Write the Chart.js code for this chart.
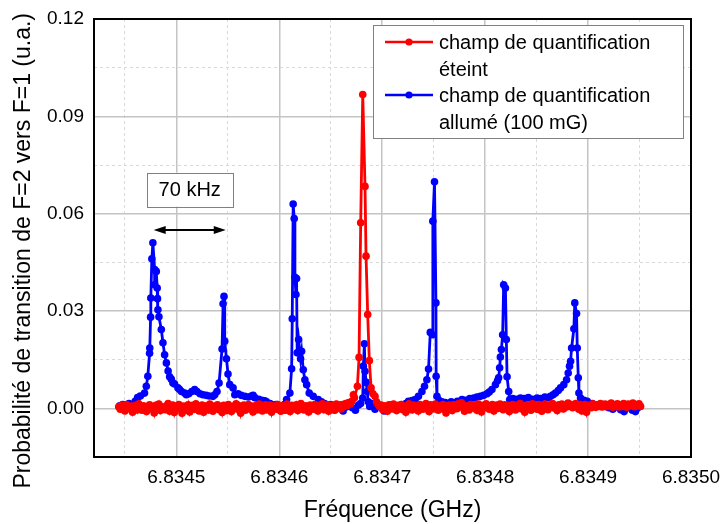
<!DOCTYPE html>
<html>
<head>
<meta charset="utf-8">
<script src="https://cdn.jsdelivr.net/npm/chart.js@4.4.0/dist/chart.umd.min.js"></script>
<style>
    html, body { margin: 0; padding: 0; background: #ffffff; }
</style>
</head>
<body>
<canvas id="graficoSpectre" width="720" height="524"></canvas>
<script>
// Base du balayage en GHz ; chaque point = [décalage en kHz, probabilité]
const freqBase = 6.834444;

// champ de quantification éteint
const redPoints = [
    [0,0.0005],[1.5,-0.0003],[3,0.0010],[4.5,0.0002],[6,-0.0008],[7.5,0.0012],[9,0.0004],[10.5,-0.0001],[12,0.0007],[13.5,-0.0012],
    [15,0.0003],[16.5,0.0009],[18,-0.0005],[19.5,0.0014],[21,0.0001],[22.5,-0.0006],[24,0.0008],[25.5,0.0002],[27,-0.0010],[28.5,0.0006],
    [30,0.0011],[31.5,-0.0002],[33,0.0004],[34.5,-0.0014],[36,0.0009],[37.5,0.0000],[39,0.0013],[40.5,-0.0007],[42,0.0005],[43.5,0.0002],
    [45,-0.0004],[46.5,0.0008],[48,0.0015],[49.5,-0.0009],[51,0.0003],[52.5,0.0010],[54,-0.0013],[55.5,0.0006],[57,-0.0002],[58.5,0.0012],
    [60,0.0001],[61.5,-0.0015],[63,0.0007],[64.5,0.0003],[66,-0.0006],[67.5,0.0011],[69,-0.0011],[70.5,0.0004],[72,0.0009],[73.5,-0.0003],
    [75,0.0014],[76.5,0.0002],[78,-0.0008],[79.5,0.0006],[81,0.0010],[82.5,-0.0012],[84,0.0001],[85.5,0.0008],[87,-0.0005],[88.5,0.0013],
    [90,0.0003],[91.5,-0.0009],[93,0.0007],[94.5,0.0000],[96,0.0011],[97.5,-0.0004],[99,0.0005],[100.5,-0.0013],[102,0.0009],[103.5,0.0002],
    [105,-0.0007],[106.5,0.0012],[108,0.0004],[109.5,-0.0010],[111,0.0006],[112.5,0.0001],[114,0.0014],[115.5,-0.0003],[117,0.0008],[118.5,-0.0015],
    [120,0.0005],[121.5,0.0010],[123,-0.0006],[124.5,0.0003],[126,0.0012],[127.5,-0.0002],[129,0.0007],[130.5,-0.0011],[132,0.0004],[133.5,0.0009],
    [135,-0.0004],[136.5,0.0013],[138,0.0001],[139.5,-0.0008],[141,0.0006],[142.5,0.0011],[144,-0.0005],[145.5,0.0002],[147,0.0010],[148.5,-0.0012],
    [150,0.0007],[151.5,0.0003],[153,-0.0003],[154.5,0.0012],[156,0.0000],[157.5,-0.0009],[159,0.0008],[160.5,0.0004],[162,-0.0006],[163.5,0.0013],
    [165,0.0002],[166.5,-0.0010],[168,0.0009],[169.5,0.0005],[171,-0.0002],[172.5,0.0011],[174,-0.0007],[175.5,0.0006],[177,0.0015],[178.5,0.0001],
    [180,-0.0005],[181.5,0.0008],[183,0.0003],[184.5,-0.0011],[186,0.0010],[187.5,0.0004],[189,-0.0003],[190.5,0.0012],[192,0.0006],[193.5,-0.0008],
    [195,0.0009],[196.5,0.0002],[198,0.0014],[199.5,-0.0004],[201,0.0007],[202.5,0.0011],[204,-0.0009],[205.5,0.0005],[207,0.0010],[208.5,0.0001],
    [210,-0.0006],[211.5,0.0013],[213,0.0004],[214.5,0.0008],[216,-0.0002],[217.5,0.0012],[219,0.0006],[220.5,0.0015],[222,0.0009],[223.5,0.0018],
    [225,0.0013],[226.5,0.0022],[228,0.0042],[229,0.0033],[231.9,0.0068],[233.5,0.0157],[235.1,0.0572],[237.1,0.0967],[239.3,0.0684],[240.3,0.0469],
    [241.9,0.0289],[243.5,0.0147],[245.2,0.0063],[247,0.0045],[249,0.0037],[250.5,0.0020],[252,0.0012],[253.5,0.0006],[255,0.0010],[256.5,-0.0004],
    [258,0.0008],[259.5,0.0002],[261,-0.0009],[262.5,0.0011],[264,0.0005],[265.5,-0.0002],[267,0.0013],[268.5,0.0003],[270,-0.0007],[271.5,0.0009],
    [273,0.0001],[274.5,0.0012],[276,-0.0004],[277.5,0.0006],[279,-0.0012],[280.5,0.0008],[282,0.0014],[283.5,0.0003],[285,-0.0005],[286.5,0.0010],
    [288,0.0002],[289.5,0.0007],[291,-0.0008],[292.5,0.0012],[294,0.0004],[295.5,-0.0003],[297,0.0009],[298.5,0.0015],[300,0.0001],[301.5,-0.0010],
    [303,0.0011],[304.5,0.0006],[306,-0.0002],[307.5,0.0013],[309,0.0004],[310.5,-0.0006],[312,0.0008],[313.5,0.0002],[315,0.0012],[316.5,-0.0004],
    [318,-0.0014],[319.5,0.0007],[321,0.0010],[322.5,0.0003],[324,-0.0007],[325.5,0.0011],[327,0.0005],[328.5,-0.0001],[330,0.0014],[331.5,0.0006],
    [333,0.0017],[334.5,0.0002],[336,-0.0009],[337.5,0.0008],[339,0.0003],[340.5,-0.0005],[342,0.0012],[343.5,0.0007],[345,0.0001],[346.5,0.0010],
    [348,-0.0006],[349.5,0.0013],[351,0.0004],[352.5,-0.0011],[354,0.0009],[355.5,0.0002],[357,0.0014],[358.5,0.0006],[360,-0.0003],[361.5,0.0008],
    [363,0.0012],[364.5,-0.0008],[366,0.0005],[367.5,0.0010],[369,0.0000],[370.5,0.0013],[372,0.0007],[373.5,-0.0004],[375,0.0011],[376.5,0.0003],
    [378,0.0009],[379.5,-0.0010],[381,0.0006],[382.5,0.0012],[384,0.0002],[385.5,-0.0005],[387,0.0010],[388.5,0.0004],[390,0.0015],[391.5,-0.0002],
    [393,0.0008],[394.5,-0.0012],[396,0.0006],[397.5,0.0011],[399,0.0003],[400.5,-0.0006],[402,0.0014],[403.5,0.0005],[405,0.0009],[406.5,-0.0003],
    [408,0.0012],[409.5,0.0002],[411,-0.0009],[412.5,0.0007],[414,0.0013],[415.5,0.0004],[417,-0.0004],[418.5,0.0010],[420,0.0006],[421.5,0.0015],
    [423,0.0001],[424.5,0.0008],[426,-0.0007],[427.5,0.0011],[429,0.0005],[430.5,0.0013],[432,-0.0002],[433.5,0.0009],[435,0.0004],[436.5,0.0016],
    [438,0.0007],[439.5,0.0012],[441,0.0002],[442.5,0.0010],[444,0.0015],[445.5,0.0006],[447,-0.0003],[448.5,0.0011],[450,-0.0008],[451.5,0.0004],
    [453,0.0012],[454.5,-0.0012],[456,0.0006],[457.5,0.0009],[459,0.0002],[460.5,0.0014],[462,0.0008],[463.5,0.0003],[465,0.0011],[466.5,0.0006],
    [468,0.0015],[469.5,0.0004],[471,0.0010],[472.5,0.0013],[474,0.0005],[475.5,0.0012],[477,0.0007],[478.5,0.0016],[480,0.0003],[481.5,0.0011],
    [483,0.0008],[484.5,0.0014],[486,0.0004],[487.5,0.0010],[489,0.0006],[490.5,0.0015],[492,0.0009],[493.5,0.0003],[495,0.0013],[496.5,0.0007],
    [498,0.0011],[499.5,0.0016],[501,0.0005],[502.5,0.0012],[504,0.0008],[505.5,0.0014],[507,0.0006]
];

// champ de quantification allumé (100 mG)
const bluePoints = [
    [1,0.0008],[4,0.0012],[7,0.0005],[10,0.0015],[13,0.0010],[16,0.0022],[18.3,0.0033],[21,0.0038],
    [25.1,0.0047],[26.8,0.0068],[28.3,0.0099],[30,0.0170],[30.2,0.0186],[31,0.0281],[31.2,0.0340],
    [32.2,0.0461],[33.2,0.0510],[34.9,0.0428],[34.9,0.0381],[36.5,0.0422],[37.4,0.0371],[37.7,0.0338],
    [38.1,0.0304],[39.1,0.0282],[41.4,0.0243],[43,0.0202],[44.6,0.0165],[46.3,0.0140],[48,0.0115],
    [49.5,0.0097],[51.1,0.0090],[52.7,0.0078],[54.3,0.0075],[57.6,0.0063],[59.2,0.0058],[61,0.0052],
    [64.1,0.0047],[65.7,0.0042],[68,0.0045],[71,0.0052],[73.8,0.0058],[76,0.0052],[79,0.0045],[81.9,0.0042],
    [85,0.0040],[88,0.0038],[91.6,0.0037],[93.3,0.0042],[95.5,0.0052],[97.5,0.0078],[100.4,0.0183],
    [101.4,0.0322],[102.3,0.0345],[103,0.0207],[104.7,0.0153],[106.2,0.0106],[107.9,0.0073],[111.1,0.0063],
    [112.8,0.0042],[116,0.0045],[119,0.0040],[122.5,0.0037],[126,0.0035],[129,0.0038],[130.6,0.0040],
    [132.2,0.0033],[136,0.0028],[139,0.0025],[142,0.0023],[143.6,0.0020],[147,0.0015],[150,0.0010],
    [153,0.0012],[156,0.0005],[159.8,-0.0005],[161,0.0012],[163.1,0.0027],[166.3,0.0047],[168,0.0122],
    [168.6,0.0276],[169.5,0.0630],[170.5,0.0585],[171.2,0.0404],[172.2,0.0351],[172.8,0.0400],[173.4,0.0171],
    [174.8,0.0212],[176.7,0.0153],[177.7,0.0176],[179.3,0.0119],[180.9,0.0088],[182.6,0.0073],[185.1,0.0047],
    [189,0.0037],[193.9,0.0027],[197,0.0020],[200,0.0015],[203,0.0008],[206,0.0012],[209,-0.0004],
    [212,0.0006],[215,0.0010],[218,-0.0008],[221,0.0004],[224,0.0012],[227,0.0002],[230,-0.0006],
    [233,0.0010],[235,0.0015],[237.1,0.0032],[237.7,0.0130],[238.7,0.0199],[239.3,0.0114],[240.5,0.0080],
    [241.4,0.0052],[242.5,0.0020],[243.9,0.0006],[246,0.0015],[249,-0.0003],[252,0.0008],[255,0.0003],
    [258,-0.0008],[261,0.0005],[264,0.0010],[267,0.0002],[270,-0.0004],[273,0.0006],[276,0.0010],
    [279,0.0015],[281.5,0.0022],[285,0.0024],[288,0.0027],[291.2,0.0037],[294.6,0.0052],[297.1,0.0068],
    [299.4,0.0088],[301,0.0121],[302.7,0.0234],[304.9,0.0227],[305.2,0.0577],[306.8,0.0698],[308.2,0.0325],
    [308.4,0.0099],[309.2,0.0037],[311,0.0025],[314,0.0020],[317.3,0.0018],[320,0.0012],[323,0.0020],
    [326,0.0015],[329,0.0022],[333.5,0.0027],[337,0.0025],[341,0.0030],[344.8,0.0032],[348,0.0035],
    [351.3,0.0037],[354.5,0.0040],[357.8,0.0045],[360,0.0050],[362.6,0.0058],[366,0.0073],[368,0.0085],
    [369.1,0.0094],[370.1,0.0125],[370.8,0.0158],[371.8,0.0181],[373,0.0227],[374,0.0381],[375.7,0.0371],
    [376.6,0.0212],[377.3,0.0097],[378.9,0.0052],[379.9,0.0027],[383,0.0030],[387,0.0028],[390.3,0.0032],
    [394,0.0030],[398,0.0033],[402,0.0028],[406.5,0.0032],[410,0.0030],[414,0.0035],[417,0.0033],
    [419.5,0.0037],[422,0.0042],[424.3,0.0047],[427,0.0055],[429.2,0.0063],[432.4,0.0073],[435.1,0.0088],
    [436.7,0.0109],[438,0.0130],[439,0.0145],[440,0.0186],[442.2,0.0245],[443.1,0.0325],[444.8,0.0292],
    [445.5,0.0186],[446.5,0.0094],[447.1,0.0047],[448.7,0.0032],[452,0.0025],[455.2,0.0022],[460,0.0015],
    [465,0.0010],[471.4,0.0006],[476,0.0002],[480,-0.0003],[484,0.0004],[487.7,-0.0004],[491,-0.0010],
    [495,0.0002],[499,-0.0006],[502,-0.0010],[504,0.0001]
];

// graduations (GHz et u.a.)
const xTicks = [6.83445, 6.8345, 6.83455, 6.8346, 6.83465, 6.8347, 6.83475, 6.8348, 6.83485, 6.8349, 6.83495, 6.835];
const yTicks = [-0.015, 0, 0.015, 0.03, 0.045, 0.06, 0.075, 0.09, 0.105, 0.12];

const seriesColors = ['#ff0000', '#0000ff'];
const legendLines = [
    ['champ de quantification', 'éteint'],
    ['champ de quantification', 'allumé (100 mG)']
];

// flèche "70 kHz"
const spacingLabel = '70 kHz';
const spacingArrow = [6.834478, 6.834548];
const spacingArrowY = 0.055;
const spacingLabelPos = [6.834513, 0.0674];

const fontFamily = '"Liberation Sans", Arial, Helvetica, sans-serif';
Chart.defaults.color = '#000000';
Chart.defaults.font.family = fontFamily;

function toXY(points) {
    return points.map(p => ({ x: freqBase + p[0] * 1e-6, y: p[1] }));
}

function isMajorX(v) {
    return Math.abs(v * 1e4 - Math.round(v * 1e4)) < 1e-6;
}
function isMajorY(v) {
    return v > -1e-9 && Math.abs(v / 0.03 - Math.round(v / 0.03)) < 1e-6;
}

// cadre noir autour de la zone de tracé
const framePlugin = {
    id: 'cadre',
    afterDatasetsDraw(chart) {
        const { ctx, chartArea } = chart;
        ctx.save();
        ctx.strokeStyle = '#000000';
        ctx.lineWidth = 2;
        ctx.strokeRect(chartArea.left, chartArea.top, chartArea.right - chartArea.left, chartArea.bottom - chartArea.top);
        ctx.restore();
    }
};

// flèche double et étiquette "70 kHz"
const spacingPlugin = {
    id: 'ecart',
    afterDatasetsDraw(chart) {
        const { ctx } = chart;
        const xs = chart.scales.x, ys = chart.scales.y;
        const xa = xs.getPixelForValue(spacingArrow[0]);
        const xb = xs.getPixelForValue(spacingArrow[1]);
        const ya = ys.getPixelForValue(spacingArrowY);
        ctx.save();
        ctx.strokeStyle = '#000000';
        ctx.fillStyle = '#000000';
        ctx.lineWidth = 2;
        ctx.beginPath();
        ctx.moveTo(xa + 6, ya);
        ctx.lineTo(xb - 6, ya);
        ctx.stroke();
        const head = 12, half = 4;
        ctx.beginPath();
        ctx.moveTo(xa, ya); ctx.lineTo(xa + head, ya - half); ctx.lineTo(xa + head, ya + half); ctx.closePath();
        ctx.fill();
        ctx.beginPath();
        ctx.moveTo(xb, ya); ctx.lineTo(xb - head, ya - half); ctx.lineTo(xb - head, ya + half); ctx.closePath();
        ctx.fill();

        const cx = xs.getPixelForValue(spacingLabelPos[0]);
        const cy = ys.getPixelForValue(spacingLabelPos[1]);
        ctx.font = '20px ' + fontFamily;
        const tw = ctx.measureText(spacingLabel).width;
        const bw = tw + 24, bh = 34;
        ctx.fillStyle = '#ffffff';
        ctx.fillRect(cx - bw / 2, cy - bh / 2, bw, bh);
        ctx.strokeStyle = '#808080';
        ctx.lineWidth = 1;
        ctx.strokeRect(Math.round(cx - bw / 2) + 0.5, Math.round(cy - bh / 2) + 0.5, Math.round(bw), bh);
        ctx.fillStyle = '#000000';
        ctx.textAlign = 'center';
        ctx.textBaseline = 'middle';
        ctx.fillText(spacingLabel, cx, cy + 1);
        ctx.restore();
    }
};

// légende encadrée sur deux lignes par série
const legendPlugin = {
    id: 'legendeBoite',
    afterDraw(chart) {
        const { ctx, chartArea } = chart;
        const w = 310, h = 113;
        const x0 = Math.round(chartArea.right - 8 - w);
        const y0 = Math.round(chartArea.top + 6);
        ctx.save();
        ctx.fillStyle = '#ffffff';
        ctx.fillRect(x0, y0, w, h);
        ctx.strokeStyle = '#808080';
        ctx.lineWidth = 1;
        ctx.strokeRect(x0 + 0.5, y0 + 0.5, w, h);
        ctx.font = '20px ' + fontFamily;
        ctx.textBaseline = 'middle';
        ctx.textAlign = 'left';
        legendLines.forEach((lines, i) => {
            const yl = y0 + 17 + i * 53;
            ctx.strokeStyle = seriesColors[i];
            ctx.lineWidth = 2.5;
            ctx.beginPath();
            ctx.moveTo(x0 + 12, yl);
            ctx.lineTo(x0 + 60, yl);
            ctx.stroke();
            ctx.fillStyle = seriesColors[i];
            ctx.beginPath();
            ctx.arc(x0 + 36, yl, 3.6, 0, Math.PI * 2);
            ctx.fill();
            ctx.fillStyle = '#000000';
            lines.forEach((t, j) => ctx.fillText(t, x0 + 66, yl + 1 + j * 27));
        });
        ctx.restore();
    }
};

const ctx = document.getElementById('graficoSpectre');

const config = {
    type: 'scatter',
    data: {
        datasets: [
            {
                label: legendLines[1].join(' '),
                data: toXY(bluePoints),
                showLine: true,
                borderColor: seriesColors[1],
                backgroundColor: seriesColors[1],
                borderWidth: 2.8,
                pointRadius: 3.8,
                pointBorderWidth: 0,
                pointHoverRadius: 3.8,
                order: 2
            },
            {
                label: legendLines[0].join(' '),
                data: toXY(redPoints),
                showLine: true,
                borderColor: seriesColors[0],
                backgroundColor: seriesColors[0],
                borderWidth: 2.8,
                pointRadius: 3.8,
                pointBorderWidth: 0,
                pointHoverRadius: 3.8,
                order: 1
            }
        ]
    },
    options: {
        responsive: false,
        animation: false,
        devicePixelRatio: 1,
        layout: { padding: { top: 19, right: 29, left: 0, bottom: 0 } },
        plugins: {
            legend: { display: false },
            tooltip: { enabled: false }
        },
        scales: {
            x: {
                type: 'linear',
                min: 6.83442,
                max: 6.835,
                afterBuildTicks: (scale) => { scale.ticks = xTicks.map(v => ({ value: v })); },
                afterFit: (scale) => {
                    scale.height = 67;
                    scale.paddingLeft = 0;
                    scale.paddingRight = 0;
                },
                ticks: {
                    autoSkip: false,
                    maxRotation: 0,
                    padding: 9,
                    font: { size: 19 },
                    callback: (v) => isMajorX(v) ? v.toFixed(4) : ''
                },
                grid: {
                    drawTicks: false,
                    color: (c) => isMajorX(c.tick.value) ? '#c4c4c4' : '#d9d9d9',
                    lineWidth: (c) => isMajorX(c.tick.value) ? 1.5 : 1
                },
                border: {
                    display: false,
                    dash: (c) => (c.tick && !isMajorX(c.tick.value)) ? [3, 3] : []
                },
                title: {
                    display: true,
                    text: 'Fréquence (GHz)',
                    font: { size: 23 },
                    padding: { top: 0, bottom: 0 }
                }
            },
            y: {
                type: 'linear',
                min: -0.015,
                max: 0.12,
                afterBuildTicks: (scale) => { scale.ticks = yTicks.map(v => ({ value: v })); },
                afterFit: (scale) => {
                    scale.width = 94;
                    scale.paddingTop = 0;
                    scale.paddingBottom = 0;
                },
                ticks: {
                    autoSkip: false,
                    padding: 10,
                    font: { size: 19 },
                    callback: (v) => isMajorY(v) ? v.toFixed(2) : ''
                },
                grid: {
                    drawTicks: false,
                    color: (c) => isMajorY(c.tick.value) ? '#c4c4c4' : '#d9d9d9',
                    lineWidth: (c) => isMajorY(c.tick.value) ? 1.5 : 1
                },
                border: {
                    display: false,
                    dash: (c) => (c.tick && !isMajorY(c.tick.value)) ? [3, 3] : []
                },
                title: {
                    display: true,
                    text: 'Probabilité de transition de F=2 vers F=1 (u.a.)    ',
                    font: { size: 23 },
                    padding: { top: 10, bottom: 0 }
                }
            }
        }
    },
    plugins: [framePlugin, spacingPlugin, legendPlugin]
};

const miGrafico = new Chart(ctx, config);
</script>
</body>
</html>
